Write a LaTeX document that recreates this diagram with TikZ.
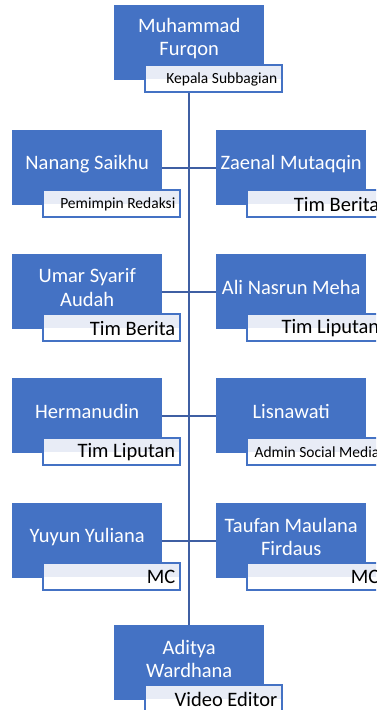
\documentclass[tikz,border=0pt]{standalone}
\usepackage{fontspec}
\setmainfont{Carlito}
\usetikzlibrary{backgrounds}
\definecolor{boxblue}{HTML}{4472C4}
\definecolor{connblue}{HTML}{3F5FA3}
\definecolor{lblfill}{HTML}{E8ECF6}
\tikzset{
  personbox/.style={fill=boxblue, draw=none, minimum width=150pt, minimum height=75pt, inner sep=0pt, anchor=north west},
  nametext/.style={text=white, align=center, inner sep=0pt, font=\fontsize{20.5}{23.5}\selectfont},
  lblbox/.style={fill=white, draw=boxblue, line width=1.5pt, minimum width=137pt, minimum height=27pt, inner sep=0pt, anchor=north west},
  lbltext/.style={text=black, inner sep=0pt, anchor=east, font=\fontsize{20.5}{23.5}\selectfont},
  lbltextsmall/.style={text=black, inner sep=0pt, anchor=east, font=\fontsize{15.5}{18}\selectfont},
  conn/.style={draw=connblue, line width=2pt}
}
% #1 id, #2 x, #3 y, #4 name, #5 label, #6 label style
\newcommand{\personnode}[6]{%
  \node[personbox] (#1) at (#2,#3) {};
  \node[nametext] (#1t) at ([yshift=4pt]#1.center) {#4};
  \node[lblbox] (#1l) at (#2+30,#3+59) {};
  \fill[lblfill] ([xshift=1.5pt,yshift=-1.5pt]#1l.north west) rectangle ([xshift=-1.5pt,yshift=-0.5pt]#1l.east);
  \node[#6] (#1lt) at ([xshift=-5pt,yshift=-1pt]#1l.east) {#5};
}
\begin{document}
\begin{tikzpicture}[x=1pt,y=-1pt]
\useasboundingbox (0,0) rectangle (376,710);
\clip (0,0) rectangle (376,710);
\personnode{top}{114}{5}{Muhammad\\Furqon}{Kepala Subbagian}{lbltextsmall}
\personnode{a}{12}{130}{Nanang Saikhu}{Pemimpin Redaksi}{lbltextsmall}
\personnode{b}{216}{130}{Zaenal Mutaqqin}{Tim Berita}{lbltext}
\personnode{c}{12}{254}{Umar Syarif\\Audah}{Tim Berita}{lbltext}
\personnode{d}{216}{254}{Ali Nasrun Meha}{Tim Liputan}{lbltext}
\personnode{e}{12}{378}{Hermanudin}{Tim Liputan}{lbltext}
\personnode{f}{216}{378}{Lisnawati}{Admin Social Media}{lbltextsmall}
\personnode{g}{12}{503}{Yuyun Yuliana}{MC}{lbltext}
\personnode{h}{216}{503}{Taufan Maulana\\Firdaus}{MC}{lbltext}
\personnode{bot}{114}{625}{Aditya\\Wardhana}{Video Editor}{lbltext}
\begin{scope}[on background layer]
\fill[white] (0,0) rectangle (376,710);
\draw[conn] ([xshift=-0.5pt]top.south) -- ([xshift=-0.5pt]bot.north);
\draw[conn] (a.east) -- (b.west);
\draw[conn] (c.east) -- (d.west);
\draw[conn] (e.east) -- (f.west);
\draw[conn] (g.east) -- (h.west);
\end{scope}
\end{tikzpicture}
\end{document}
